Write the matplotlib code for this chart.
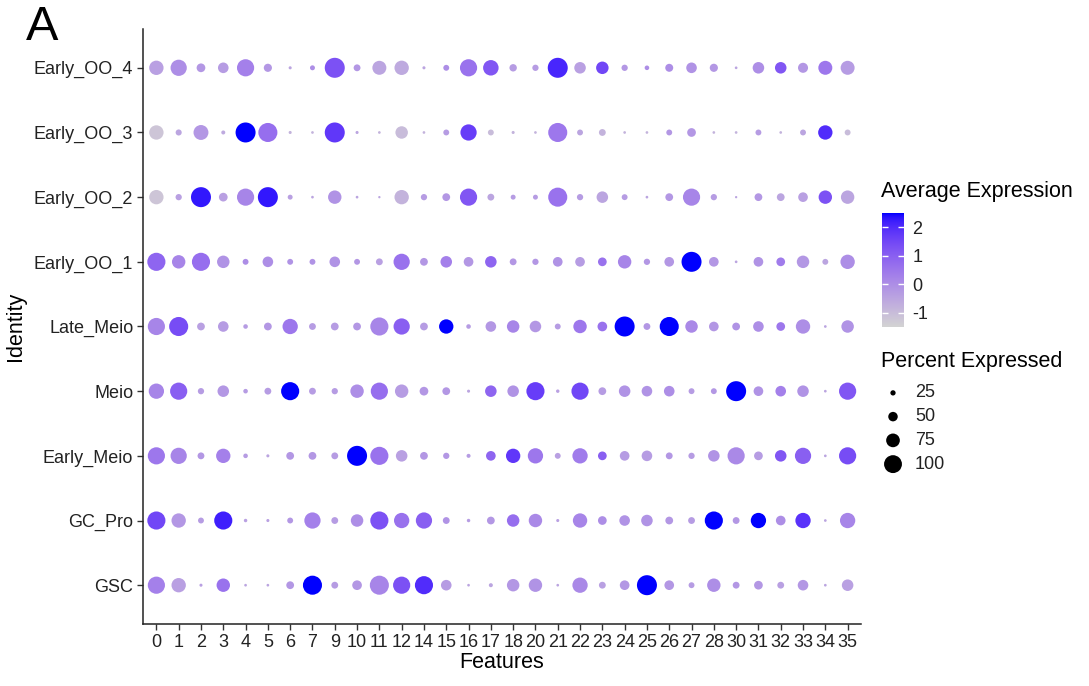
import numpy as np
import matplotlib
matplotlib.use("Agg")
import matplotlib.pyplot as plt
from matplotlib.colors import ListedColormap, Normalize

plt.rcParams['font.family'] = ['Liberation Sans', 'DejaVu Sans']

features = [0, 1, 2, 3, 4, 5, 6, 7, 9, 10, 11, 12, 14, 15, 16, 17, 18, 20,
            21, 22, 23, 24, 25, 26, 27, 28, 30, 31, 32, 33, 34, 35]

# identities, bottom to top
identities = ["GSC", "GC_Pro", "Early_Meio", "Meio", "Late_Meio",
              "Early_OO_1", "Early_OO_2", "Early_OO_3", "Early_OO_4"]

# percent of cells expressing each feature
pct_gsc = [85, 70, 10, 65, 8, 8, 35, 95, 30, 45, 95, 85, 90, 50, 8, 15, 60, 65, 8, 75, 30, 45, 100, 45, 25, 65, 30, 40, 30, 50, 8, 55]
pct_gc_pro = [90, 70, 25, 90, 12, 10, 25, 80, 30, 60, 90, 75, 80, 30, 12, 35, 60, 65, 10, 70, 40, 50, 55, 35, 30, 90, 30, 75, 45, 75, 8, 75]
pct_early_meio = [85, 80, 30, 70, 18, 10, 35, 35, 30, 100, 90, 55, 35, 27, 15, 45, 70, 75, 25, 75, 40, 45, 50, 30, 27, 55, 85, 40, 55, 80, 8, 85]
pct_meio = [75, 85, 27, 55, 18, 30, 90, 30, 27, 65, 85, 65, 40, 35, 10, 55, 55, 90, 12, 85, 35, 55, 50, 50, 25, 25, 100, 45, 50, 55, 8, 85]
pct_late_meio = [85, 95, 35, 50, 18, 35, 75, 30, 35, 35, 90, 80, 35, 70, 18, 50, 60, 55, 25, 65, 45, 100, 30, 95, 60, 45, 35, 50, 40, 70, 8, 60]
pct_early_oo_1 = [90, 65, 90, 60, 25, 50, 25, 25, 50, 25, 30, 80, 35, 55, 45, 55, 30, 27, 45, 45, 40, 65, 27, 45, 100, 45, 8, 45, 40, 60, 25, 70]
pct_early_oo_2 = [70, 27, 100, 40, 85, 100, 20, 8, 65, 8, 6, 70, 27, 35, 85, 30, 20, 20, 95, 27, 55, 25, 8, 35, 85, 27, 6, 35, 35, 45, 65, 65]
pct_early_oo_3 = [70, 26, 73, 15, 100, 95, 10, 8, 100, 10, 8, 60, 8, 25, 80, 25, 10, 8, 95, 25, 30, 8, 8, 25, 40, 8, 8, 25, 8, 25, 70, 25]
pct_early_oo_4 = [70, 80, 40, 50, 85, 37, 10, 20, 100, 30, 68, 70, 10, 25, 85, 76, 33, 27, 100, 55, 60, 27, 18, 36, 50, 37, 8, 55, 55, 47, 68, 68]

# scaled average expression
avg_gsc = [0.3, -0.4, -0.4, 0.6, -0.5, -0.5, -0.2, 2.5, -0.3, -0.2, 0.2, 1.3, 2.0, -0.3, -0.5, -0.5, -0.2, -0.1, -0.5, 0.1, -0.4, -0.2, 2.5, -0.2, -0.3, 0.0, -0.2, -0.2, -0.4, -0.2, -0.5, -0.4]
avg_gc_pro = [1.5, -0.2, -0.3, 2.2, -0.4, -0.4, -0.2, 0.3, -0.3, 0.0, 1.3, 0.6, 1.0, -0.1, -0.3, -0.2, 0.7, 0.1, -0.4, 0.2, 0.0, -0.1, -0.1, -0.2, -0.3, 2.5, -0.2, 2.5, 0.0, 1.9, -0.5, 0.2]
avg_early_meio = [0.5, 0.2, -0.2, 0.3, -0.3, -0.5, -0.2, -0.2, -0.3, 2.5, 0.6, -0.4, -0.2, -0.2, -0.3, 0.9, 1.8, 0.5, -0.4, 0.4, 1.0, -0.3, -0.3, -0.2, -0.3, -0.1, 0.1, -0.3, 1.2, 1.0, -0.5, 1.4]
avg_meio = [0.2, 1.0, -0.3, -0.2, -0.3, -0.3, 2.5, -0.3, -0.3, 0.0, 0.7, -0.3, -0.2, -0.2, -0.5, 0.9, -0.1, 1.7, -0.4, 1.5, -0.3, -0.1, -0.1, 0.0, -0.3, -0.2, 2.5, -0.1, 0.3, -0.1, -0.5, 1.2]
avg_late_meio = [0.2, 1.4, -0.4, -0.3, -0.3, -0.2, 0.5, -0.3, -0.3, -0.2, 0.2, 1.0, -0.3, 2.5, -0.3, -0.2, 0.2, -0.2, -0.3, 0.5, 0.6, 2.5, -0.2, 2.5, 0.1, -0.2, -0.1, 0.0, 0.5, 0.0, -0.5, -0.1]
avg_early_oo_1 = [0.9, 0.2, 0.7, -0.1, 0.0, 0.0, -0.1, -0.1, -0.1, -0.2, -0.4, 0.6, -0.2, 0.3, -0.2, 0.9, -0.2, -0.2, -0.1, -0.3, 0.6, 0.2, -0.2, -0.2, 2.5, -0.2, -0.5, -0.1, 0.4, -0.2, -0.5, 0.0]
avg_early_oo_2 = [-1.2, -0.4, 2.3, -0.4, 0.2, 2.3, -0.4, -0.5, -0.1, -0.5, -0.5, -0.8, -0.3, -0.2, 1.2, -0.5, -0.3, -0.3, 0.6, -0.3, -0.5, -0.3, -0.5, -0.2, 0.2, -0.3, -0.5, -0.2, -0.5, -0.4, 1.3, -0.5]
avg_early_oo_3 = [-1.2, -0.5, -0.2, -0.6, 2.5, 0.7, -0.8, -0.8, 1.8, -0.5, -0.8, -1.0, -0.8, -0.3, 1.7, -1.0, -0.8, -0.8, 0.5, -0.5, -0.8, -0.8, -0.8, -0.2, -0.2, -0.8, -0.8, -0.3, -0.8, -0.5, 2.0, -1.0]
avg_early_oo_4 = [-0.4, 0.0, -0.2, -0.3, 0.3, -0.2, -0.5, 0.0, 1.3, -0.2, -0.5, -0.6, -0.5, 0.0, 0.6, 1.2, -0.3, -0.3, 2.1, -0.4, 1.5, -0.2, 0.0, 0.0, -0.1, -0.2, -0.5, 0.0, 1.2, -0.2, 0.5, -0.3]

pct_rows = [pct_gsc, pct_gc_pro, pct_early_meio, pct_meio, pct_late_meio,
            pct_early_oo_1, pct_early_oo_2, pct_early_oo_3, pct_early_oo_4]
avg_rows = [avg_gsc, avg_gc_pro, avg_early_meio, avg_meio, avg_late_meio,
            avg_early_oo_1, avg_early_oo_2, avg_early_oo_3, avg_early_oo_4]

size_breaks = [25, 50, 75, 100]
color_ticks = [-1, 0, 1, 2]
expr_min, expr_max = -1.5, 2.5


# --- lightgrey -> blue gradient interpolated in CIE Lab ---
def srgb_to_lab(rgb):
    rgb = np.asarray(rgb, float)
    lin = np.where(rgb <= 0.04045, rgb / 12.92, ((rgb + 0.055) / 1.055) ** 2.4)
    M = np.array([[0.4124, 0.3576, 0.1805],
                  [0.2126, 0.7152, 0.0722],
                  [0.0193, 0.1192, 0.9505]])
    xyz = lin @ M.T / np.array([0.95047, 1.0, 1.08883])
    f = np.where(xyz > 0.008856, np.cbrt(xyz), 7.787 * xyz + 16 / 116)
    L = 116 * f[..., 1] - 16
    a = 500 * (f[..., 0] - f[..., 1])
    b = 200 * (f[..., 1] - f[..., 2])
    return np.stack([L, a, b], -1)


def lab_to_srgb(lab):
    L, a, b = lab[..., 0], lab[..., 1], lab[..., 2]
    fy = (L + 16) / 116
    fx = fy + a / 500
    fz = fy - b / 200
    f = np.stack([fx, fy, fz], -1)
    xyz = np.where(f ** 3 > 0.008856, f ** 3, (f - 16 / 116) / 7.787)
    xyz = xyz * np.array([0.95047, 1.0, 1.08883])
    Minv = np.array([[3.2406, -1.5372, -0.4986],
                     [-0.9689, 1.8758, 0.0415],
                     [0.0557, -0.2040, 1.0570]])
    lin = xyz @ Minv.T
    lin = np.clip(lin, 0, 1)
    rgb = np.where(lin <= 0.0031308, 12.92 * lin, 1.055 * lin ** (1 / 2.4) - 0.055)
    return np.clip(rgb, 0, 1)


lab_lo = srgb_to_lab([211 / 255, 211 / 255, 211 / 255])
lab_hi = srgb_to_lab([0.0, 0.0, 1.0])
t = np.linspace(0, 1, 256)[:, None]
cmap = ListedColormap(lab_to_srgb(lab_lo + t * (lab_hi - lab_lo)))
norm = Normalize(vmin=expr_min, vmax=expr_max)


def marker_area(p):
    # dot diameter grows linearly with percent expressed
    diam_px = 1.2 + 0.188 * np.asarray(p, float)
    return (diam_px * 0.72) ** 2


W, H = 1089, 686
fig = plt.figure(figsize=(W / 100, H / 100), dpi=100)
ax = fig.add_axes([143 / W, 1 - 624 / H, (861 - 143) / W, (624 - 29) / H])

xs = np.arange(len(features))
for yi, (prow, arow) in enumerate(zip(pct_rows, avg_rows)):
    ax.scatter(xs, np.full(len(xs), yi), s=marker_area(prow),
               c=np.clip(arow, expr_min, expr_max), cmap=cmap, norm=norm,
               linewidths=0, zorder=3)

ax.set_xlim(-0.6, len(features) - 0.4)
ax.set_ylim(-0.6, len(identities) - 0.4)
ax.set_xticks(xs)
ax.set_xticklabels([str(f) for f in features])
ax.set_yticks(range(len(identities)))
ax.set_yticklabels(identities)
for s in ["top", "right"]:
    ax.spines[s].set_visible(False)
for s in ["left", "bottom"]:
    ax.spines[s].set_linewidth(1.1)
    ax.spines[s].set_color("#222222")
ax.tick_params(axis="both", length=4, width=1, color="#333333",
               labelsize=13, labelcolor="#222222", pad=3)
ax.set_xlabel("Features", fontsize=15.5, labelpad=1)
ax.set_ylabel("Identity", fontsize=15.5, labelpad=6)

fig.text(26 / W, 1 - 28 / H, "A", fontsize=35, va="center", ha="left")

# colour bar
cax = fig.add_axes([882 / W, 1 - 327 / H, 22 / W, 114 / H])
grad = np.linspace(expr_min, expr_max, 300)[:, None]
cax.imshow(grad, aspect="auto", cmap=cmap, norm=norm, origin="lower",
           extent=[0, 1, expr_min, expr_max])
cax.set_xticks([])
cax.set_yticks(color_ticks)
cax.set_yticklabels([str(v) for v in color_ticks])
cax.tick_params(axis="y", left=True, right=True, labelleft=False, labelright=True,
                direction="in", color="white", length=4.5, width=1,
                labelsize=13, labelcolor="#222222", pad=6)
for s in cax.spines.values():
    s.set_visible(False)
fig.text(881 / W, 1 - 191 / H, "Average Expression", fontsize=15.5,
         va="center", ha="left")

# size legend
fig.text(881 / W, 1 - 361 / H, "Percent Expressed", fontsize=15.5,
         va="center", ha="left")
lax = fig.add_axes([880 / W, 1 - 476 / H, 60 / W, 95 / H])
lax.set_xlim(0, 60)
lax.set_ylim(len(size_breaks) - 0.5, -0.5)
lax.axis("off")
idx = np.arange(len(size_breaks))
lax.scatter(np.full(len(idx), 13), idx, s=marker_area(size_breaks) * 0.8,
            c="black", linewidths=0)
for i, b in zip(idx, size_breaks):
    lax.text(35, i, str(b), fontsize=13, va="center", ha="left", color="#222222")

fig.savefig("out.png", dpi=100)
